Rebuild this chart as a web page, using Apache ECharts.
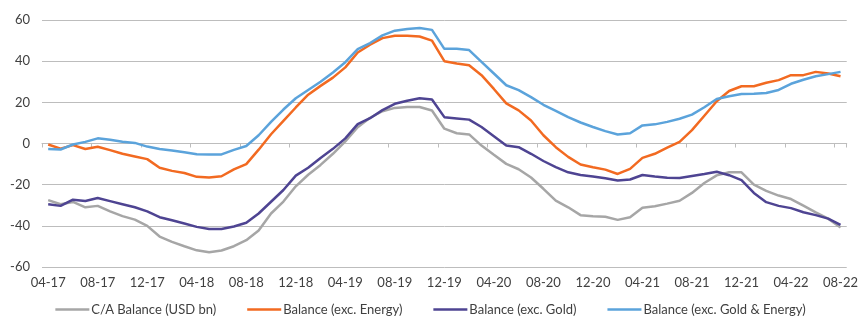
<!DOCTYPE html>
<html>
<head>
<meta charset="utf-8">
<script src="https://cdn.jsdelivr.net/npm/echarts@6/dist/echarts.min.js"></script>
<style>
  html, body { margin: 0; padding: 0; background: #ffffff; }
  #chart { width: 861px; height: 322px; }
</style>
</head>
<body>
<div id="chart"></div>
<script>
// Monthly current account balance and its components, USD bn
const months = [
  '04-17','05-17','06-17','07-17','08-17','09-17','10-17','11-17','12-17',
  '01-18','02-18','03-18','04-18','05-18','06-18','07-18','08-18','09-18','10-18','11-18','12-18',
  '01-19','02-19','03-19','04-19','05-19','06-19','07-19','08-19','09-19','10-19','11-19','12-19',
  '01-20','02-20','03-20','04-20','05-20','06-20','07-20','08-20','09-20','10-20','11-20','12-20',
  '01-21','02-21','03-21','04-21','05-21','06-21','07-21','08-21','09-21','10-21','11-21','12-21',
  '01-22','02-22','03-22','04-22','05-22','06-22','07-22','08-22'
];

const caBalance = [
  -27.5, -29.5, -28.4, -31, -30.3, -33, -35.3, -37, -40,
  -45.2, -47.8, -49.9, -51.9, -52.8, -52, -49.9, -47, -42.3, -34, -28.2, -20.8,
  -15.2, -10.4, -5, 1, 7.9, 12.5, 15.7, 17.3, 17.7, 17.7, 16, 7.2,
  5, 4.4, -1, -5.5, -9.9, -12.5, -16.5, -22, -27.8, -31, -34.8, -35.3,
  -35.6, -37.1, -35.8, -31.2, -30.5, -29.2, -27.8, -24, -19.2, -15.5, -14, -14,
  -20, -23, -25.3, -27, -30.2, -33.5, -36.5, -40.8
];

const exEnergy = [
  -0.5, -2.5, -0.8, -2.7, -1.6, -3.2, -5, -6.3, -7.6,
  -11.8, -13.3, -14.3, -16.2, -16.5, -15.9, -12.6, -10, -3, 4.5, 11, 17.5,
  23.7, 28, 32, 37, 44.2, 48, 51.2, 52.3, 52.4, 52, 50, 40,
  38.9, 38, 33.2, 26.5, 19.5, 16.1, 11.2, 4, -1.8, -6.5, -10.2, -11.5,
  -12.7, -14.8, -12.3, -7, -5, -2, 0.8, 6.5, 13.5, 20.5, 25.5, 27.8,
  27.8, 29.5, 30.8, 33.2, 33.2, 34.8, 34, 32.7
];

const exGold = [
  -29.5, -30.3, -27.3, -27.9, -26.5, -28, -29.5, -31, -33,
  -35.8, -37.3, -38.9, -40.5, -41.5, -41.5, -40.3, -38.5, -34, -28.3, -22.6, -15.6,
  -11.8, -7, -2.6, 2.5, 9.4, 12.3, 16.2, 19.3, 20.8, 22, 21.4, 12.8,
  12.2, 11.6, 8, 3.5, -1, -1.8, -5, -8.5, -11.5, -14, -15.3, -16,
  -16.9, -18, -17.5, -15.3, -16, -16.6, -16.8, -15.8, -14.8, -13.7, -15.4, -17.8,
  -24, -28.5, -30.3, -31.4, -33.4, -34.8, -36.5, -39.5
];

const exGoldEnergy = [
  -2.7, -2.9, -0.5, 0.8, 2.5, 1.8, 0.8, 0.3, -1.5,
  -2.7, -3.4, -4.3, -5.2, -5.3, -5.3, -3.1, -1.2, 4, 10.5, 16.5, 22,
  26, 30, 34.5, 39.5, 45.8, 48.8, 52.5, 54.8, 55.6, 56.1, 55.2, 46,
  46, 45.4, 39.7, 34, 28.3, 25.9, 22.5, 18.8, 15.9, 12.8, 10.2, 8,
  6, 4.4, 5, 8.8, 9.3, 10.5, 12, 14, 17.6, 21.6, 23, 24,
  24.2, 24.5, 26, 29, 31, 32.7, 33.7, 34.8
];

const seriesNames = [
  'C/A Balance (USD bn)',
  'Balance (exc. Energy)',
  'Balance (exc. Gold)',
  'Balance (exc. Gold & Energy)'
];
const seriesData = [caBalance, exEnergy, exGold, exGoldEnergy];
const seriesColors = ['#A6A6A6', '#F26A21', '#4E4492', '#5BA3DB'];

const fontFamily = 'Lato, "Open Sans", sans-serif';
const textColor = '#404040';
const gridColor = '#BDBDBD';

const chart = echarts.init(document.getElementById('chart'), null, { renderer: 'canvas' });

chart.setOption({
  animation: false,
  backgroundColor: '#ffffff',
  textStyle: { fontFamily: fontFamily },
  grid: { left: 42, right: 11, top: 20, bottom: 55 },
  legend: {
    bottom: 1,
    left: 'center',
    itemWidth: 34,
    itemHeight: 2.5,
    itemGap: 31,
    icon: 'rect',
    textStyle: { color: textColor, fontSize: 13, fontFamily: fontFamily, padding: [0, 0, 0, -3] },
    data: seriesNames
  },
  xAxis: [
    {
      type: 'category',
      data: months,
      position: 'bottom',
      boundaryGap: true,
      axisLine: { show: false, onZero: false },
      axisTick: { show: false },
      axisLabel: {
        interval: 3,
        color: textColor,
        fontSize: 13,
        fontFamily: fontFamily,
        margin: 9
      },
      splitLine: { show: false }
    },
    {
      type: 'category',
      data: months,
      position: 'bottom',
      boundaryGap: true,
      axisLine: { show: true, onZero: true, lineStyle: { color: gridColor, width: 1 } },
      axisTick: { show: true, interval: 3, length: 4, lineStyle: { color: gridColor } },
      axisLabel: { show: false },
      splitLine: { show: false }
    }
  ],
  yAxis: {
    type: 'value',
    min: -60,
    max: 60,
    interval: 20,
    axisLine: { show: false },
    axisTick: { show: false },
    axisLabel: { color: textColor, fontSize: 13, fontFamily: fontFamily, margin: 12 },
    splitLine: { lineStyle: { color: gridColor, width: 1 } }
  },
  series: seriesNames.map((name, k) => ({
    name: name,
    type: 'line',
    xAxisIndex: 0,
    data: seriesData[k],
    symbol: 'none',
    smooth: false,
    lineStyle: { color: seriesColors[k], width: 2.5 },
    itemStyle: { color: seriesColors[k] }
  }))
});
</script>
</body>
</html>
